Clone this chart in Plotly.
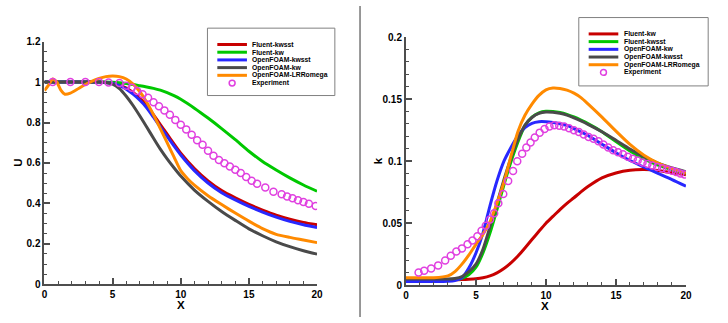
import plotly.graph_objects as go

# ---------------- data: left panel (U vs X) ----------------
XL = [0, 1, 2, 3, 4, 4.5, 5, 5.5, 6, 6.5, 7, 7.5, 8, 8.5, 9, 9.5, 10, 11, 12, 13, 14, 15, 16, 17, 18, 19, 20]
U_fluent_kwsst = [1.0, 1.0, 1.0, 1.0, 1.0, 0.998, 0.995, 0.985, 0.97, 0.948, 0.92, 0.885, 0.838, 0.79, 0.742, 0.694, 0.648, 0.572, 0.511, 0.463, 0.427, 0.395, 0.367, 0.342, 0.322, 0.306, 0.294]
U_fluent_kw = [1.0, 1.0, 1.0, 1.0, 1.0, 1.0, 0.999, 0.997, 0.993, 0.988, 0.982, 0.976, 0.969, 0.96, 0.948, 0.933, 0.915, 0.871, 0.822, 0.77, 0.715, 0.658, 0.607, 0.565, 0.526, 0.491, 0.46]
U_of_kwsst = [1.0, 1.0, 1.0, 1.0, 1.0, 0.997, 0.993, 0.982, 0.965, 0.94, 0.91, 0.873, 0.826, 0.778, 0.731, 0.684, 0.639, 0.562, 0.501, 0.453, 0.417, 0.385, 0.357, 0.332, 0.311, 0.294, 0.281]
U_of_kw = [1.0, 1.0, 1.0, 1.0, 1.0, 0.998, 0.99, 0.968, 0.93, 0.884, 0.832, 0.778, 0.722, 0.668, 0.62, 0.576, 0.535, 0.466, 0.41, 0.36, 0.316, 0.274, 0.24, 0.21, 0.186, 0.166, 0.149]
XL_lrr = [0, 0.3, 0.6, 0.9, 1.2, 1.5, 1.9, 2.5, 3, 3.5, 4, 4.5, 5, 5.5, 6, 6.5, 7, 7.5, 8, 8.5, 9, 9.5, 10, 10.5, 11, 12, 13, 14, 15, 16, 17, 18, 19, 20]
U_of_lrr = [0.958, 0.985, 1.015, 1.0, 0.96, 0.94, 0.945, 0.968, 0.988, 1.005, 1.018, 1.027, 1.03, 1.027, 1.015, 0.99, 0.952, 0.9, 0.838, 0.77, 0.7, 0.63, 0.562, 0.522, 0.49, 0.438, 0.394, 0.352, 0.312, 0.275, 0.247, 0.232, 0.219, 0.206]
XL_exp = [0.6, 1.9, 3.0, 4.0, 4.7, 5.5, 6.0, 6.4, 6.8, 7.2, 7.6, 8.0, 8.4, 8.8, 9.2, 9.6, 10.0, 10.4, 10.8, 11.2, 11.6, 12.0, 12.4, 12.8, 13.2, 13.6, 14.0, 14.4, 14.8, 15.2, 15.6, 16.2, 16.8, 17.4, 17.8, 18.2, 18.6, 19.0, 19.4, 19.9]
U_exp = [1.0, 1.0, 1.0, 1.0, 0.998, 0.995, 0.982, 0.972, 0.956, 0.94, 0.922, 0.9, 0.88, 0.86, 0.838, 0.813, 0.789, 0.766, 0.74, 0.712, 0.69, 0.66, 0.636, 0.615, 0.598, 0.582, 0.566, 0.55, 0.53, 0.512, 0.497, 0.478, 0.458, 0.445, 0.434, 0.425, 0.415, 0.407, 0.398, 0.387]

# ---------------- data: right panel (k vs X) ----------------
XR = [0, 1, 2, 3, 3.5, 4, 4.5, 5, 5.5, 6, 6.5, 7, 7.5, 8, 8.5, 9, 9.5, 10, 10.5, 11, 11.5, 12, 12.5, 13, 14, 15, 16, 17, 18, 19, 20]
k_fluent_kw = [0.004, 0.004, 0.004, 0.0042, 0.0044, 0.0046, 0.0048, 0.0052, 0.006, 0.0075, 0.010, 0.0135, 0.018, 0.0235, 0.030, 0.0368, 0.0435, 0.050, 0.0555, 0.061, 0.066, 0.0705, 0.0752, 0.0795, 0.0865, 0.0905, 0.0927, 0.0932, 0.0925, 0.0907, 0.089]
k_fluent_kwsst = [0.004, 0.004, 0.004, 0.0042, 0.0045, 0.0055, 0.0085, 0.0145, 0.026, 0.042, 0.061, 0.081, 0.0995, 0.1155, 0.1285, 0.1355, 0.139, 0.1402, 0.140, 0.1392, 0.1377, 0.1356, 0.1331, 0.1303, 0.1238, 0.1158, 0.1082, 0.1018, 0.0968, 0.0932, 0.0905]
k_of_kw = [0.003, 0.003, 0.003, 0.0032, 0.0038, 0.006, 0.014, 0.026, 0.042, 0.064, 0.084, 0.100, 0.111, 0.1205, 0.127, 0.1305, 0.1318, 0.1318, 0.1312, 0.1302, 0.1288, 0.1262, 0.1235, 0.1207, 0.1137, 0.1068, 0.1005, 0.0952, 0.0902, 0.0852, 0.0798]
k_of_kwsst = [0.005, 0.005, 0.005, 0.005, 0.0055, 0.007, 0.011, 0.017, 0.029, 0.047, 0.066, 0.085, 0.1025, 0.1175, 0.129, 0.1352, 0.1385, 0.1396, 0.1394, 0.1386, 0.1371, 0.1349, 0.1324, 0.1297, 0.1237, 0.1168, 0.1098, 0.1036, 0.0984, 0.0945, 0.0915]
k_of_lrr = [0.006, 0.006, 0.006, 0.0075, 0.011, 0.017, 0.0245, 0.033, 0.041, 0.051, 0.066, 0.083, 0.104, 0.124, 0.137, 0.146, 0.153, 0.1575, 0.159, 0.1586, 0.1572, 0.1548, 0.1512, 0.1462, 0.1355, 0.1242, 0.1135, 0.1048, 0.0985, 0.094, 0.0905]
XR_exp = [0.9, 1.3, 1.8, 2.3, 2.8, 3.2, 3.6, 4.0, 4.4, 4.75, 5.1, 5.4, 5.7, 6.0, 6.3, 6.6, 6.95, 7.3, 7.65, 7.95, 8.3, 8.6, 8.9, 9.2, 9.55, 9.9, 10.25, 10.6, 10.95, 11.3, 11.65, 12.0, 12.35, 12.7, 13.05, 13.4, 13.75, 14.1, 14.45, 14.8, 15.15, 15.5, 15.85, 16.2, 16.55, 16.9, 17.25, 17.6, 17.95, 18.3, 18.65, 19.0, 19.3, 19.6, 19.9]
k_exp = [0.0103, 0.0116, 0.0134, 0.016, 0.0199, 0.0238, 0.0271, 0.0297, 0.033, 0.036, 0.0395, 0.044, 0.048, 0.053, 0.058, 0.066, 0.0735, 0.084, 0.092, 0.100, 0.106, 0.111, 0.115, 0.119, 0.123, 0.126, 0.128, 0.129, 0.1285, 0.128, 0.1265, 0.125, 0.1235, 0.1215, 0.1195, 0.118, 0.116, 0.1135, 0.111, 0.1088, 0.1072, 0.1055, 0.1035, 0.102, 0.1005, 0.099, 0.0978, 0.0965, 0.0953, 0.0942, 0.0932, 0.0922, 0.0912, 0.090, 0.0893]

xticks = [0, 5, 10, 15, 20]
names_left = ["Fluent-kwsst", "Fluent-kw", "OpenFOAM-kwsst", "OpenFOAM-kw", "OpenFOAM-LRRomega", "Experiment"]
names_right = ["Fluent-kw", "Fluent-kwsst", "OpenFOAM-kw", "OpenFOAM-kwsst", "OpenFOAM-LRRomega", "Experiment"]

RED, GREEN, BLUE, GRAY, ORANGE, MAG = "#C80000", "#00C800", "#2828FF", "#4A4A4A", "#FF8A00", "#E040E0"
colors = [RED, GREEN, BLUE, GRAY, ORANGE, MAG]

W, H = 728, 323
def pxx(x):
    return x / W
def pxy(y):
    return 1 - y / H

FONT = "Liberation Sans"
fig = go.Figure()

left_series = [(XL, U_fluent_kwsst), (XL, U_fluent_kw), (XL, U_of_kwsst), (XL, U_of_kw), (XL_lrr, U_of_lrr)]
right_series = [(XR, k_fluent_kw), (XR, k_fluent_kwsst), (XR, k_of_kw), (XR, k_of_kwsst), (XR, k_of_lrr)]

for (xs, ys), c, n in zip(left_series, colors, names_left):
    fig.add_trace(go.Scatter(x=xs, y=ys, name=n, mode="lines", xaxis="x", yaxis="y",
                             line=dict(color=c, width=3, shape="spline", smoothing=0.6), showlegend=False))
fig.add_trace(go.Scatter(x=XL_exp, y=U_exp, name="Experiment", mode="markers", xaxis="x", yaxis="y",
                         marker=dict(symbol="circle-open", size=7, color=MAG, line=dict(width=1.5)), showlegend=False))

for (xs, ys), c, n in zip(right_series, colors, names_right):
    fig.add_trace(go.Scatter(x=xs, y=ys, name=n, mode="lines", xaxis="x2", yaxis="y2",
                             line=dict(color=c, width=3, shape="spline", smoothing=0.6), showlegend=False))
fig.add_trace(go.Scatter(x=XR_exp, y=k_exp, name="Experiment", mode="markers", xaxis="x2", yaxis="y2",
                         marker=dict(symbol="circle-open", size=7, color=MAG, line=dict(width=1.5)), showlegend=False))

AXC = "#4d4d4d"
tickfont = dict(family=FONT, size=10, color="black", weight="bold")
def xa(domain, anchor):
    return dict(domain=domain, anchor=anchor, range=[0, 20], tickvals=xticks, showline=True, linecolor=AXC,
                linewidth=2, ticks="inside", ticklen=6, tickwidth=1.5, tickcolor=AXC, showgrid=False,
                zeroline=False, tickfont=tickfont, fixedrange=True,
                minor=dict(dtick=1, tick0=0, ticks="inside", ticklen=3, tickwidth=1, tickcolor=AXC, showgrid=False))
def ya(domain, anchor, rng, dt, mdt):
    return dict(domain=domain, anchor=anchor, range=rng, dtick=dt, tick0=0, showline=True, linecolor=AXC,
                linewidth=2, ticks="inside", ticklen=6, tickwidth=1.5, tickcolor=AXC, showgrid=False,
                zeroline=False, tickfont=tickfont, fixedrange=True,
                minor=dict(dtick=mdt, tick0=0, ticks="inside", ticklen=3, tickwidth=1, tickcolor=AXC, showgrid=False))

shapes = [dict(type="line", xref="paper", yref="paper", x0=pxx(361.5), x1=pxx(361.5), y0=0, y1=1,
               line=dict(color="#333333", width=1))]
annotations = []

def legend(box, first_y, names, line_x0, line_x1, text_x):
    x0, y0, x1, y1 = box
    shapes.append(dict(type="rect", xref="paper", yref="paper", x0=pxx(x0), x1=pxx(x1), y0=pxy(y0), y1=pxy(y1),
                       line=dict(color="#808080", width=1), fillcolor="white"))
    for i, (n, c) in enumerate(zip(names, colors)):
        yy = first_y + 8 * i
        if n == "Experiment":
            cx = (line_x0 + line_x1) / 2
            shapes.append(dict(type="circle", xref="paper", yref="paper", x0=pxx(cx - 3), x1=pxx(cx + 3),
                               y0=pxy(yy - 3), y1=pxy(yy + 3), line=dict(color=MAG, width=1.5)))
        else:
            shapes.append(dict(type="line", xref="paper", yref="paper", x0=pxx(line_x0), x1=pxx(line_x1),
                               y0=pxy(yy), y1=pxy(yy), line=dict(color=c, width=3)))
        annotations.append(dict(xref="paper", yref="paper", x=pxx(text_x), y=pxy(yy), text=n, showarrow=False,
                                xanchor="left", yanchor="middle", borderpad=0,
                                font=dict(family=FONT, size=6.8, color="black", weight="bold")))

legend((207, 23, 336, 93), 40, names_left, 217, 247, 251)
legend((583, 12, 714, 83), 29, names_right, 593, 623, 628)

title_font = dict(family=FONT, size=11.5, color="black", weight="bold")
for txt, x, y, ang in [("U", 15, 163, -90), ("X", 180, 311, 0), ("k", 380, 161, -90), ("X", 549, 312, 0)]:
    annotations.append(dict(xref="paper", yref="paper", x=pxx(x), y=pxy(y), text=txt, showarrow=False,
                            xanchor="center", yanchor="middle", textangle=ang, borderpad=0, font=title_font))

fig.update_layout(
    width=W, height=H, margin=dict(l=0, r=0, t=0, b=0),
    paper_bgcolor="white", plot_bgcolor="white", showlegend=False,
    xaxis=xa([42 / W, 318 / W], "y"),
    yaxis=ya([1 - 289 / H, 1 - 37 / H], "x", [0, 1.2], 0.2, 0.05),
    xaxis2=xa([408 / W, 691.5 / W], "y2"),
    yaxis2=ya([1 - 290 / H, 1 - 32.3 / H], "x2", [0, 0.2], 0.05, 0.01),
    shapes=shapes, annotations=annotations,
)

fig.write_html("out.html")
